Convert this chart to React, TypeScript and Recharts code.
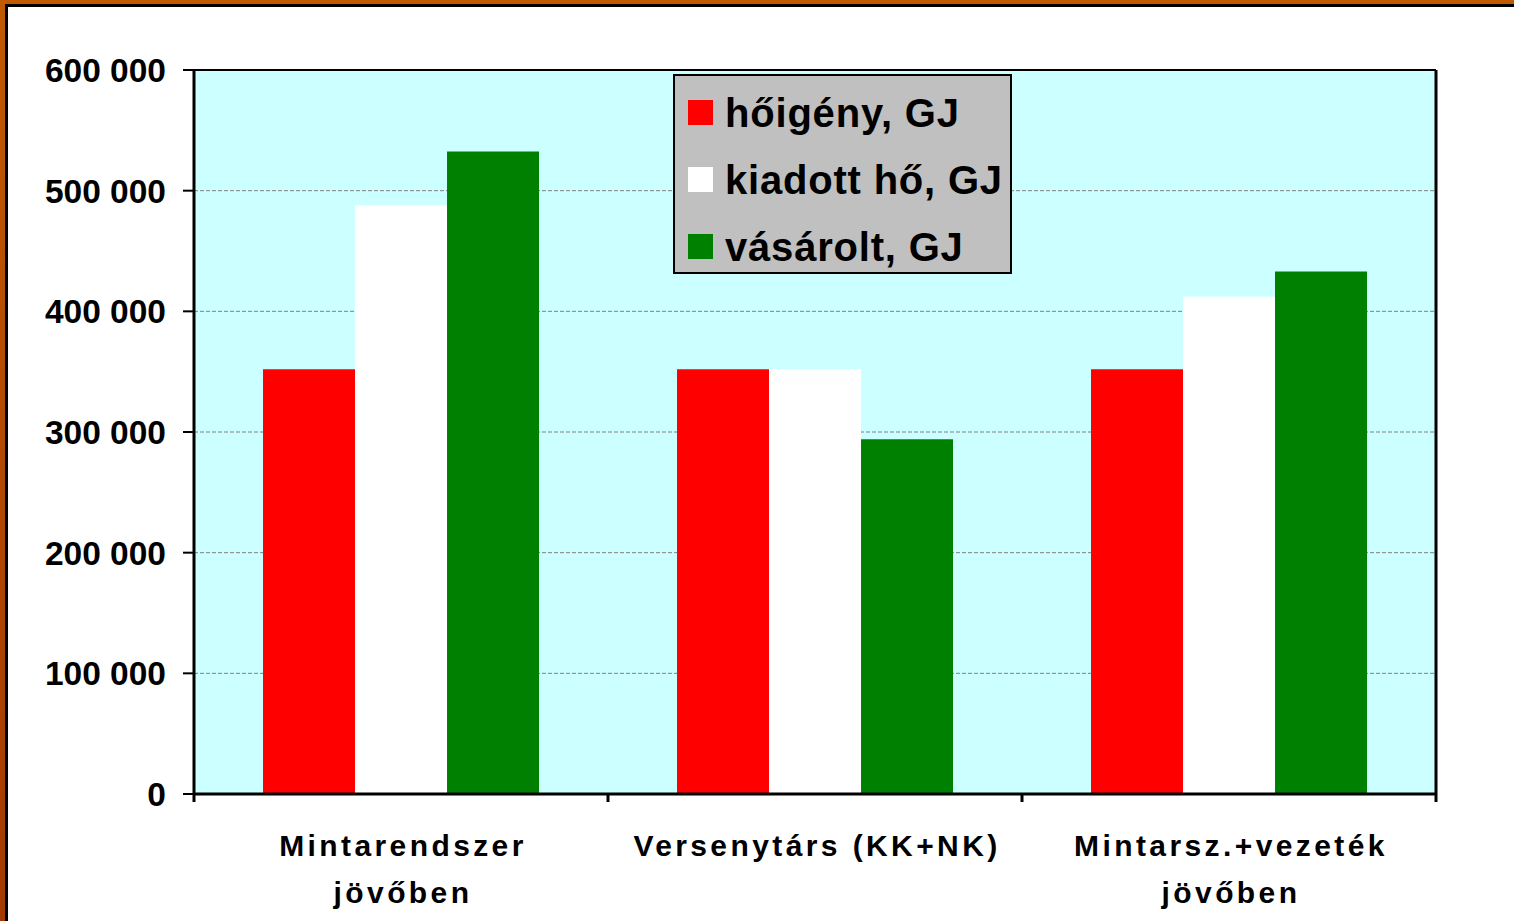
import React from 'react';
import { BarChart, Bar, XAxis, YAxis, CartesianGrid, Legend, ReferenceLine } from 'recharts';

const categories = ['Mintarendszer\njövőben', 'Versenytárs (KK+NK)', 'Mintarsz.+vezeték\njövőben'];
const hoigeny = [352000, 352000, 352000];
const kiadott = [488000, 352000, 412000];
const vasarolt = [532500, 294000, 433000];
const yTicks = [0, 100000, 200000, 300000, 400000, 500000, 600000];

const seriesNames = ['hőigény, GJ', 'kiadott hő, GJ', 'vásárolt, GJ'];
const seriesColors = ['#FF0000', '#FFFFFF', '#008000'];

const data = categories.map((name, i) => ({
  name,
  hoigeny: hoigeny[i],
  kiadott: kiadott[i],
  vasarolt: vasarolt[i],
}));

const FONT = '"Liberation Sans", Arial, sans-serif';

const fmt = (v: number) => {
  if (v === 0) return '0';
  const s = String(Math.round(v));
  return s.replace(/\B(?=(\d{3})+(?!\d))/g, ' ');
};

const CatTick = (props: any) => {
  const { x, y, payload, index, visibleTicksCount, width } = props;
  const lines = String(payload.value).split('\n');
  const bw = Number(width) / Number(visibleTicksCount);
  const hasBw = isFinite(bw);
  return (
    <g>
      {hasBw && <line x1={x - bw / 2} x2={x - bw / 2} y1={y} y2={y + 8} stroke="#000" strokeWidth={3} />}
      {hasBw && index === visibleTicksCount - 1 && (
        <line x1={x + bw / 2} x2={x + bw / 2} y1={y} y2={y + 8} stroke="#000" strokeWidth={3} />
      )}
      <text
        x={x}
        y={y}
        textAnchor="middle"
        fill="#000"
        fontFamily={FONT}
        fontWeight="bold"
        fontSize={30}
        style={{ letterSpacing: '3.4px' }}
      >
        {lines.map((l, i) => (
          <tspan key={i} x={x + 2} y={y + 62 + i * 47}>
            {l}
          </tspan>
        ))}
      </text>
    </g>
  );
};

const LegendBox = (props: any) => {
  const payload = props.payload || [];
  return (
    <div
      style={{
        boxSizing: 'border-box',
        width: 339,
        height: 200,
        background: '#C0C0C0',
        border: '2px solid #000',
        paddingTop: 3,
        fontFamily: FONT,
      }}
    >
      {payload.map((p: any, i: number) => (
        <div key={i} style={{ height: 67, display: 'flex', alignItems: 'center', paddingLeft: 13 }}>
          <div style={{ width: 25, height: 25, background: p.color, marginRight: 12 }} />
          <span style={{ fontSize: 40, fontWeight: 'bold', color: '#000', lineHeight: '40px', letterSpacing: '0.8px' }}>
            {p.value}
          </span>
        </div>
      ))}
    </div>
  );
};

export default function App() {
  return (
    <div style={{ position: 'absolute', left: 0, top: 0, width: 1514, height: 921, background: '#fff', overflow: 'hidden' }}>
      <div style={{ position: 'absolute', left: 0, top: 0, width: 1514, height: 4, background: '#BF5A00' }} />
      <div style={{ position: 'absolute', left: 0, top: 0, width: 5, height: 921, background: 'linear-gradient(#BF5A00, #A33A00)' }} />
      <div style={{ position: 'absolute', left: 5, top: 4, width: 1509, height: 3, background: '#000' }} />
      <div style={{ position: 'absolute', left: 5, top: 4, width: 3, height: 917, background: '#000' }} />
      <div style={{ position: 'absolute', left: 0, top: 0 }}>
        <BarChart
          width={1514}
          height={921}
          data={data}
          margin={{ top: 70, right: 78, bottom: 0, left: 0 }}
          barCategoryGap="16.67%"
          barGap={0}
        >
          <CartesianGrid
            vertical={false}
            fill="#CCFFFF"
            stroke="#808080"
            strokeDasharray="4 2"
          />
          <CartesianGrid
            horizontal={false}
            vertical
            stroke="#000"
            strokeWidth={3}
            verticalCoordinatesGenerator={(p: any) => [p.offset.left + p.offset.width]}
          />
          <XAxis
            dataKey="name"
            axisLine={{ stroke: '#000', strokeWidth: 3 }}
            tickLine={false}
            tickSize={0}
            tickMargin={0}
            height={127}
            interval={0}
            tick={<CatTick />}
          />
          <YAxis
            domain={[0, 600000]}
            ticks={yTicks}
            width={194}
            tickFormatter={fmt}
            tickSize={11}
            tickMargin={17}
            tick={{ fill: '#000', fontSize: 33.5, fontWeight: 'bold', fontFamily: FONT }}
            tickLine={{ stroke: '#000', strokeWidth: 2 }}
            axisLine={{ stroke: '#000', strokeWidth: 3 }}
            interval={0}
          />
          <ReferenceLine y={600000} stroke="#000" strokeWidth={2} />
          <Legend
            layout="horizontal"
            verticalAlign="middle"
            align="center"
            content={<LegendBox />}
            wrapperStyle={{ position: 'absolute', left: 673, top: 74, width: 339, height: 200 }}
          />
          <Bar dataKey="hoigeny" name={seriesNames[0]} fill={seriesColors[0]} isAnimationActive={false} />
          <Bar dataKey="kiadott" name={seriesNames[1]} fill={seriesColors[1]} isAnimationActive={false} />
          <Bar dataKey="vasarolt" name={seriesNames[2]} fill={seriesColors[2]} isAnimationActive={false} />
        </BarChart>
      </div>
    </div>
  );
}
